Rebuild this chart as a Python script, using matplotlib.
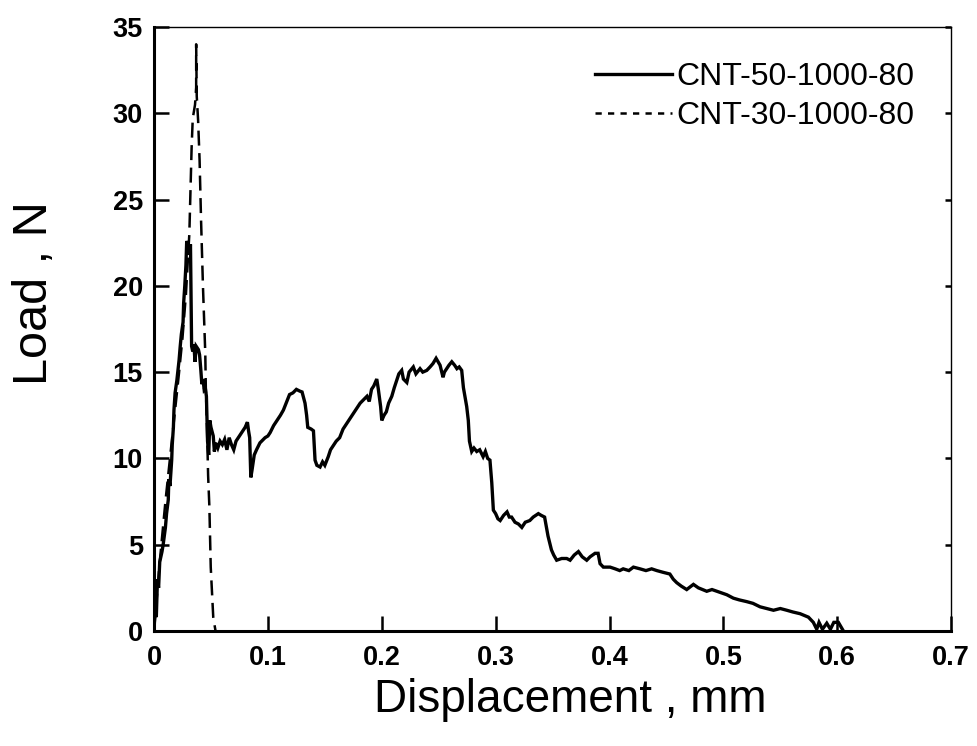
import matplotlib
matplotlib.use('Agg')
import matplotlib.pyplot as plt
from matplotlib.ticker import MultipleLocator, FormatStrFormatter

# CNT-50-1000-80 (linea continua)
x50 = [0.000, 0.001, 0.002, 0.003, 0.004, 0.005, 0.007, 0.008, 0.010, 0.011,
       0.0125, 0.013, 0.014, 0.0155, 0.016, 0.017, 0.0175, 0.0185, 0.020, 0.022,
       0.023, 0.024, 0.0255, 0.026, 0.027, 0.028, 0.0287, 0.030, 0.031, 0.032,
       0.033, 0.034, 0.035, 0.036, 0.037, 0.039, 0.040, 0.041, 0.042, 0.043,
       0.044, 0.045, 0.046, 0.047, 0.048, 0.049, 0.050, 0.052, 0.053, 0.054,
       0.056, 0.058, 0.060, 0.062, 0.064, 0.066, 0.068, 0.070, 0.072, 0.075,
       0.078, 0.080, 0.082, 0.083, 0.084, 0.085, 0.086, 0.088, 0.090, 0.093,
       0.0975, 0.100, 0.102, 0.105, 0.108, 0.111, 0.1136, 0.116, 0.119, 0.122,
       0.125, 0.128, 0.130, 0.1326, 0.134, 0.135, 0.138, 0.140, 0.1414, 0.143,
       0.1458, 0.148, 0.150, 0.153, 0.155, 0.157, 0.160, 0.163, 0.166, 0.169,
       0.172, 0.175, 0.178, 0.181, 0.184, 0.187, 0.189, 0.191, 0.193, 0.1956,
       0.197, 0.199, 0.200, 0.202, 0.204, 0.206, 0.2088, 0.211, 0.213, 0.215,
       0.2175, 0.219, 0.222, 0.224, 0.2277, 0.230, 0.2336, 0.236, 0.2395, 0.2424,
       0.245, 0.2477, 0.2495, 0.2512, 0.2538, 0.255, 0.257, 0.259, 0.2615, 0.264,
       0.266, 0.268, 0.2702, 0.2717, 0.2746, 0.276, 0.277, 0.278, 0.279, 0.281,
       0.2834, 0.286, 0.289, 0.291, 0.293, 0.295, 0.2966, 0.298, 0.300, 0.302,
       0.304, 0.307, 0.310, 0.312, 0.314, 0.317, 0.320, 0.323, 0.326, 0.330,
       0.333, 0.3375, 0.340, 0.343, 0.346, 0.349, 0.351, 0.3536, 0.358, 0.3624,
       0.3654, 0.369, 0.3727, 0.376, 0.380, 0.383, 0.3873, 0.390, 0.3917, 0.3946,
       0.4005, 0.405, 0.409, 0.412, 0.417, 0.421, 0.4268, 0.432, 0.437, 0.4415,
       0.447, 0.453, 0.456, 0.459, 0.463, 0.4678, 0.4737, 0.478, 0.4854, 0.490,
       0.4986, 0.503, 0.5088, 0.514, 0.5205, 0.526, 0.5322, 0.538, 0.544, 0.550,
       0.5557, 0.561, 0.5674, 0.5747, 0.579, 0.582, 0.584, 0.587, 0.5908, 0.594,
       0.597, 0.601, 0.6054]
y50 = [0.0, 1.5, 0.8, 3.0, 2.5, 4.0, 4.6, 5.0, 6.0, 6.8,
       7.6, 8.8, 8.4, 9.9, 10.8, 11.8, 12.8, 13.8, 14.5, 15.7,
       16.5, 17.2, 17.9, 19.0, 20.0, 21.2, 22.6, 22.3, 21.8, 22.4,
       16.5, 16.2, 16.6, 15.6, 16.5, 16.3, 16.0, 15.2, 14.3, 14.6,
       14.0, 14.1, 13.6, 11.0, 10.2, 12.2, 11.8, 11.3, 10.4, 10.9,
       10.6, 11.0, 10.8, 11.1, 10.5, 11.2, 10.8, 10.5, 11.0, 11.3,
       11.6, 11.8, 12.1, 11.6, 11.2, 8.9, 9.3, 10.2, 10.5, 10.9,
       11.2, 11.3, 11.5, 11.9, 12.2, 12.5, 12.8, 13.2, 13.7, 13.8,
       14.0, 13.9, 13.85, 13.2, 12.5, 11.8, 11.7, 11.6, 9.9, 9.6,
       9.5, 9.8, 9.6, 10.1, 10.5, 10.7, 11.0, 11.2, 11.7, 12.0,
       12.3, 12.6, 12.9, 13.2, 13.4, 13.6, 13.3, 14.0, 14.2, 14.6,
       14.0, 13.0, 12.2, 12.5, 12.7, 13.2, 13.6, 14.1, 14.5, 14.9,
       15.1, 14.6, 14.4, 15.0, 15.3, 14.9, 15.2, 15.0, 15.1, 15.3,
       15.5, 15.8, 15.6, 15.4, 14.7, 15.0, 15.2, 15.4, 15.6, 15.4,
       15.2, 15.3, 15.1, 14.1, 13.0, 12.2, 11.0, 10.7, 10.4, 10.6,
       10.4, 10.5, 10.1, 10.4, 10.0, 9.9, 8.6, 7.0, 6.8, 6.5,
       6.4, 6.7, 6.9, 6.6, 6.6, 6.3, 6.2, 6.0, 6.3, 6.4,
       6.6, 6.8, 6.7, 6.6, 5.5, 4.7, 4.4, 4.1, 4.2, 4.2,
       4.1, 4.4, 4.6, 4.3, 4.1, 4.3, 4.5, 4.5, 3.9, 3.7,
       3.7, 3.6, 3.5, 3.6, 3.5, 3.7, 3.6, 3.5, 3.6, 3.5,
       3.4, 3.3, 3.0, 2.8, 2.6, 2.4, 2.7, 2.5, 2.3, 2.4,
       2.2, 2.1, 1.9, 1.8, 1.7, 1.6, 1.4, 1.3, 1.2, 1.3,
       1.2, 1.1, 1.0, 0.8, 0.5, 0.1, 0.5, 0.1, 0.45, 0.1,
       0.5, 0.5, 0.0]

# CNT-30-1000-80 (linea discontinua)
x30 = [0.000, 0.005, 0.010, 0.014, 0.018, 0.022, 0.025, 0.028, 0.031, 0.032,
       0.033, 0.034, 0.036, 0.037, 0.037, 0.0375, 0.0387, 0.040, 0.0413, 0.043,
       0.045, 0.0455, 0.0465, 0.0475, 0.0486, 0.0498, 0.052, 0.054]
y30 = [0.0, 4.0, 7.5, 10.0, 12.5, 15.0, 17.0, 19.5, 23.0, 25.5,
       28.0, 29.7, 30.5, 31.5, 34.0, 31.0, 29.6, 27.3, 23.8, 19.9,
       16.1, 14.0, 11.8, 9.0, 7.2, 3.7, 0.8, 0.0]

plt.rcParams['font.family'] = ['Liberation Sans', 'DejaVu Sans']

fig = plt.figure(figsize=(9.78, 7.46), dpi=100)
ax = fig.add_axes([0.1575, 0.1542, 0.815, 0.8096])

ax.plot(x50, y50, color='black', lw=2.4, solid_joinstyle='miter',
        label='CNT-50-1000-80')
ax.plot(x30, y30, color='black', lw=1.8, dashes=(6, 3),
        label='CNT-30-1000-80')

ax.set_xlim(0, 0.7)
ax.set_ylim(0, 35)
ax.xaxis.set_major_locator(MultipleLocator(0.1))
ax.yaxis.set_major_locator(MultipleLocator(5))
ax.xaxis.set_major_formatter(FormatStrFormatter('%g'))

ax.tick_params(direction='in', length=11, width=1.8, labelsize=19.5)
ax.tick_params(axis='x', pad=10)
ax.tick_params(axis='y', pad=8)
ax.tick_params(axis='y', which='major', right=True)
for lab in ax.get_xticklabels() + ax.get_yticklabels():
    lab.set_fontweight('bold')
for t in ax.yaxis.get_major_ticks():
    t.tick2line.set_markersize(4)

for s in ['left', 'bottom']:
    ax.spines[s].set_linewidth(2.2)
for s in ['top', 'right']:
    ax.spines[s].set_linewidth(1.0)

ax.set_xlabel('Displacement , mm', fontsize=33)
ax.set_ylabel('Load , N', fontsize=35)
ax.xaxis.set_label_coords(0.522, -0.078)
ax.yaxis.set_label_coords(-0.122, 0.56)

leg = ax.legend(loc='upper right', bbox_to_anchor=(0.99, 0.99), frameon=False,
                fontsize=23, handlelength=2.4, handletextpad=0.15,
                labelspacing=0.3)
leg.get_lines()[1].set_dashes((2.5, 2.5))

plt.savefig('out.png', dpi=100)
